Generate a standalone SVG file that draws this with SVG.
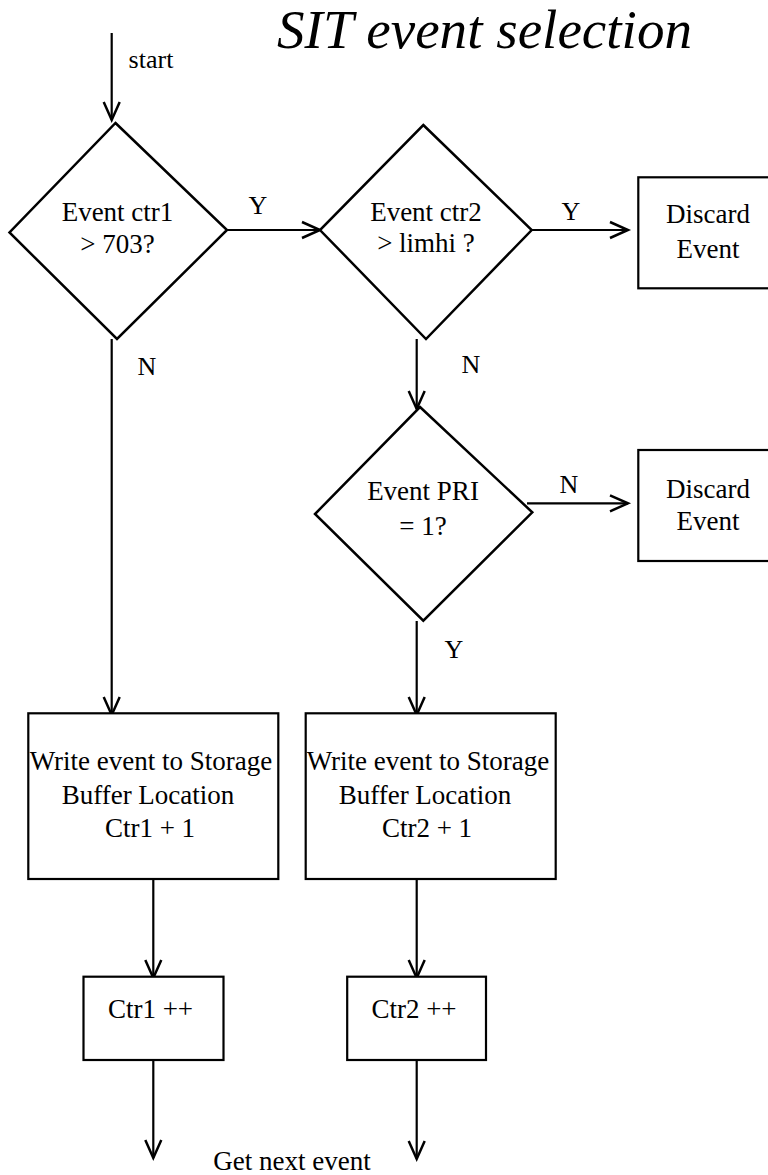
<svg xmlns="http://www.w3.org/2000/svg" width="768" height="1175" viewBox="0 0 768 1175">
<style>
  .shape { fill: #fff; stroke: #000; stroke-width: 2.2; }
  .dia { fill: #fff; stroke: #000; stroke-width: 2.5; stroke-linejoin: miter; }
  .conn { fill: none; stroke: #000; stroke-width: 2.2; }
  text { font-family: "Liberation Serif", "Times New Roman", serif; fill: #000; }
  .t { font-size: 27px; text-anchor: middle; }
  .lbl { font-size: 26px; text-anchor: middle; }
  .title { font-size: 55px; font-style: italic; }
</style>
<defs>
  <marker id="arr" markerUnits="userSpaceOnUse" viewBox="-20 -10 22 20" markerWidth="22" markerHeight="20" refX="0" refY="0" orient="auto" overflow="visible">
    <path d="M-18,-8 L0,0 L-18,8" fill="none" stroke="#000" stroke-width="2.5"/>
  </marker>
</defs>
<rect width="768" height="1175" fill="#fff"/>
<text class="title" x="277" y="48" textLength="415" lengthAdjust="spacingAndGlyphs">SIT event selection</text>

<g id="connectors">
  <path class="conn" d="M111.7,33 V120" marker-end="url(#arr)"/>
  <path class="conn" d="M111.7,339 V715" marker-end="url(#arr)"/>
  <path class="conn" d="M227,230 H320" marker-end="url(#arr)"/>
  <path class="conn" d="M532,230 H628" marker-end="url(#arr)"/>
  <path class="conn" d="M416.7,339 V409" marker-end="url(#arr)"/>
  <path class="conn" d="M527,503.3 H628" marker-end="url(#arr)"/>
  <path class="conn" d="M416.7,621 V715" marker-end="url(#arr)"/>
  <path class="conn" d="M153.3,879 V978" marker-end="url(#arr)"/>
  <path class="conn" d="M416.7,879 V978" marker-end="url(#arr)"/>
  <path class="conn" d="M153.3,1060 V1158" marker-end="url(#arr)"/>
  <path class="conn" d="M416.7,1060 V1159" marker-end="url(#arr)"/>
  <text class="lbl" x="151" y="68" style="text-anchor:middle">start</text>
  <text class="lbl" x="258" y="214">Y</text>
  <text class="lbl" x="571" y="220">Y</text>
  <text class="lbl" x="147" y="375">N</text>
  <text class="lbl" x="471" y="373">N</text>
  <text class="lbl" x="569" y="493">N</text>
  <text class="lbl" x="454" y="658">Y</text>
  <text class="t" x="292" y="1170">Get next event</text>
</g>

<g id="dec1">
  <polygon class="dia" points="115.5,123 227,230 117,339 9.5,232.5"/>
  <text class="t" x="117.5" y="221">Event ctr1</text>
  <text class="t" x="117.5" y="252.7">&gt; 703?</text>
</g>
<g id="dec2">
  <polygon class="dia" points="423.3,125 531.7,230 426,339 320,230"/>
  <text class="t" x="426" y="220.7">Event ctr2</text>
  <text class="t" x="426" y="251.7">&gt; limhi ?</text>
</g>
<g id="discard1">
  <rect class="shape" x="638.3" y="177.3" width="140" height="111"/>
  <text class="t" x="708" y="223">Discard</text>
  <text class="t" x="708" y="258">Event</text>
</g>
<g id="dec3">
  <polygon class="dia" points="420,407 532.3,512.3 423.3,620.7 315,514"/>
  <text class="t" x="423" y="500">Event PRI</text>
  <text class="t" x="423" y="535">= 1?</text>
</g>
<g id="discard2">
  <rect class="shape" x="638.3" y="450" width="140" height="111"/>
  <text class="t" x="708" y="497.7">Discard</text>
  <text class="t" x="708" y="530">Event</text>
</g>
<g id="write1">
  <rect class="shape" x="28.3" y="713.3" width="250" height="165.7"/>
  <text class="t" x="151" y="770">Write event to Storage</text>
  <text class="t" x="148" y="804">Buffer Location</text>
  <text class="t" x="150" y="837">Ctr1 + 1</text>
</g>
<g id="write2">
  <rect class="shape" x="305.7" y="713.3" width="250" height="165.7"/>
  <text class="t" x="428" y="770">Write event to Storage</text>
  <text class="t" x="425" y="804">Buffer Location</text>
  <text class="t" x="427" y="837">Ctr2 + 1</text>
</g>
<g id="inc1">
  <rect class="shape" x="83.5" y="976.7" width="140" height="83.3"/>
  <text class="t" x="150.5" y="1018">Ctr1 ++</text>
</g>
<g id="inc2">
  <rect class="shape" x="347.2" y="976.7" width="138.8" height="83.3"/>
  <text class="t" x="414" y="1018">Ctr2 ++</text>
</g>
</svg>
